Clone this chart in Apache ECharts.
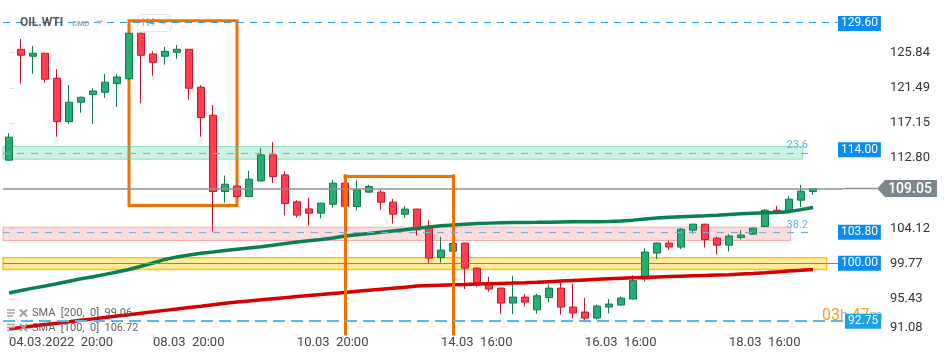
<!DOCTYPE html>
<html><head><meta charset="utf-8">
<script src="https://cdn.jsdelivr.net/npm/echarts@6/dist/echarts.min.js"></script>
<style>html,body{margin:0;padding:0;background:#fff}#c{width:950px;height:360px}</style>
</head><body><div id="c"></div>
<script>
// ---- DATA ----
// H4 candles: [open, close, low, high]
const candles = [
[112.56,115.40,112.50,115.89],[126.26,125.52,122.01,127.53],[125.40,125.77,123.25,126.67],[125.77,122.56,122.14,125.80],
[122.68,117.32,115.47,123.79],[117.32,119.72,117.04,121.85],[119.72,120.33,118.43,120.40],[120.66,121.11,117.04,121.45],
[120.95,122.19,120.28,123.21],[122.01,122.84,119.12,123.17],[122.63,128.24,122.50,128.30],[128.24,125.52,119.59,128.30],
[125.68,124.65,123.00,126.01],[125.40,126.01,124.36,126.54],[125.89,126.26,125.10,126.79],[126.26,121.45,120.00,126.30],
[121.57,117.82,115.47,121.85],[118.11,108.68,103.74,119.38],[108.68,109.59,107.32,110.66],[109.35,108.06,108.00,109.40],
[108.06,110.21,108.00,111.24],[110.00,113.21,109.88,114.04],[113.21,110.53,109.72,114.78],[110.74,107.20,105.72,111.20],
[107.41,105.77,105.47,107.62],[106.54,106.01,104.48,107.91],[106.01,107.25,105.37,107.30],[107.12,109.72,106.70,110.13],
[109.72,106.88,106.80,109.80],[106.83,108.89,106.33,110.13],[108.61,109.30,108.55,109.51],[108.61,107.37,106.42,108.89],
[107.37,105.89,104.73,107.78],[105.89,106.51,105.47,106.91],[106.51,103.95,103.25,106.55],[104.24,100.46,99.84,105.19],
[100.53,101.45,99.91,103.09],[101.32,102.26,101.20,102.30],[102.31,99.22,96.63,102.35],[99.22,97.16,96.88,99.25],
[97.28,96.63,96.30,98.15],[96.75,94.90,93.54,96.80],[94.90,95.64,93.54,98.28],[95.64,95.02,94.48,96.05],
[94.07,95.80,93.60,96.05],[95.59,96.75,94.98,97.16],[96.75,94.41,93.49,97.78],[94.41,93.67,93.00,97.28],
[93.79,93.05,92.63,95.55],[93.05,94.53,92.88,94.69],[94.41,94.78,93.62,95.40],[94.66,95.52,94.60,95.72],
[95.40,97.66,95.35,98.36],[97.87,101.20,97.57,101.69],[101.08,102.31,100.34,102.35],[102.31,101.82,101.48,102.63],
[101.82,104.03,101.57,104.16],[103.91,104.65,103.42,104.70],[104.65,102.75,101.77,104.70],[102.93,102.06,100.90,103.13],
[102.06,103.18,101.27,103.42],[103.00,103.30,102.75,103.91],[103.42,104.16,103.35,104.20],[104.36,106.38,104.30,106.51],
[106.38,106.13,105.96,106.91],[106.38,107.74,106.30,108.15],[107.62,108.73,106.75,109.51],[108.70,109.05,108.24,109.10]
];
const sma100 = [96.15,96.45,96.75,97.0,97.3,97.6,97.9,98.15,98.45,98.75,99.05,99.45,99.85,100.3,100.6,100.85,101.05,101.2,
101.4,101.55,101.7,101.85,102.05,102.25,102.45,102.6,102.75,102.95,103.2,103.35,103.5,103.65,103.8,103.95,104.15,104.3,
104.45,104.55,104.65,104.72,104.78,104.82,104.85,104.87,104.88,104.9,104.92,104.94,104.95,104.96,104.97,105.05,105.15,
105.3,105.42,105.5,105.57,105.63,105.68,105.75,105.85,105.93,106.0,106.05,106.1,106.2,106.45,106.72];
const sma200 = [91.7,91.88,92.06,92.24,92.42,92.6,92.78,92.95,93.12,93.3,93.47,93.65,93.82,94.0,94.17,94.35,94.52,94.7,
94.88,95.03,95.17,95.3,95.44,95.57,95.7,95.83,95.96,96.09,96.22,96.35,96.48,96.61,96.74,96.87,97.0,97.06,97.11,97.16,
97.2,97.25,97.29,97.33,97.37,97.42,97.48,97.55,97.62,97.69,97.76,97.83,97.9,97.97,98.02,98.07,98.12,98.17,98.22,98.27,
98.32,98.36,98.4,98.48,98.56,98.65,98.75,98.85,98.95,99.06];
const tickIdx = [0,12,24,36,48,60];
const tickLabels = ['04.03.2022  20:00','08.03  20:00','10.03  20:00','14.03  16:00','16.03  16:00','18.03  16:00'];
const yTicks = [91.08,95.43,99.77,104.12,112.80,117.15,121.49,125.84];
const lastPrice = 109.05;
// horizontal levels
const lvlTop = 129.60, lvlBottom = 92.72, lvl100 = 99.82;
const fib236 = 113.45, fib382 = 103.65;
const badgeValues = [129.45, 113.85, 103.65, 99.82, 92.65];
const badgeTexts = ['129.60','114.00','103.80','100.00','92.75'];
// zones [yLow, yHigh, xRight]
const zoneGreen = [112.68, 114.24, 66.14];
const zoneRed = [102.63, 104.28, 65.14];
const zoneYellow = [99.05, 100.49, 68.14];
// orange boxes [xLeft, yTop, xRight, yBottom]
const box1 = [10, 129.78, 19, 106.95];
const box2 = [28, 110.62, 37.05];
const fibEnd = 66.75;

// ---- CHART ----
const font = 'Roboto, "Noto Sans", sans-serif';
const X_MIN = -0.5, X_MAX = 69.5, Y_MIN = 91.08, Y_MAX = 132.35;
const chart = echarts.init(document.getElementById('c'));

function badge(v, text, color, dist) {
  return {yAxis: v, lineStyle: {color: 'rgba(0,0,0,0)', width: 0},
    label: {show: true, position: 'end', distance: dist, formatter: text, backgroundColor: color,
      color: '#fff', fontSize: 12, fontFamily: font, padding: [2,3,1,3], lineHeight: 12}};
}

const zoneItem = (z, fill, border, bw) => [
  {xAxis: -0.6, yAxis: z[1], itemStyle: {color: fill, borderColor: border, borderWidth: bw}},
  {xAxis: z[2], yAxis: z[0]}
];

function buildOption(extraGraphics) {
  return {
    animation: false,
    grid: {left: 3, top: 0, width: 840, height: 334},
    xAxis: {type: 'value', min: X_MIN, max: X_MAX, splitLine: {show: false}, axisLine: {show: false},
      axisTick: {show: true, customValues: tickIdx, length: 4, lineStyle: {color: '#d6d6d6'}},
      axisLabel: {customValues: tickIdx, formatter: v => { const k = tickIdx.indexOf(Math.round(v)); return k >= 0 ? tickLabels[k] : ''; },
        align: 'left', margin: 2, color: '#444', fontSize: 13, fontFamily: font}},
    yAxis: {type: 'value', position: 'right', offset: 39, min: Y_MIN, max: Y_MAX, splitLine: {show: false}, axisLine: {show: false},
      axisTick: {show: true, customValues: yTicks, length: 5, lineStyle: {color: '#e0e0e0'}},
      axisLabel: {customValues: yTicks, formatter: v => v.toFixed(2), margin: 8, color: '#333', fontSize: 13, fontFamily: font,
        verticalAlignMinLabel: 'bottom'}},
    series: [
      {type: 'line', name: 'under', data: [], z: 1, markLine: {silent: true, symbol: ['none','none'], animation: false,
        data: [
          {yAxis: lastPrice, lineStyle: {color: '#8a9396', width: 1.5, type: 'solid'}, label: {show: false}},
          {yAxis: lvl100, lineStyle: {color: '#2a9fe8', width: 1.2, type: 'solid'}, label: {show: false}}
        ]}},
      {type: 'candlestick', data: candles.map((c, i) => [i, c[0], c[1], c[2], c[3]]),
        dimensions: ['x','open','close','lowest','highest'], encode: {x: 'x', y: ['open','close','lowest','highest']},
        barWidth: 7, z: 2,
        itemStyle: {color: '#26ad73', color0: '#ff3f50', borderColor: '#127a4b', borderColor0: '#c21a30', borderWidth: 1}},
      {type: 'line', data: sma100.map((v, i) => [i, v]), symbol: 'none', z: 3, lineStyle: {color: '#08804f', width: 3.5}},
      {type: 'line', data: sma200.map((v, i) => [i, v]), symbol: 'none', z: 3, lineStyle: {color: '#d70000', width: 3.5}},
      {type: 'line', name: 'boxes', data: [], z: 4,
        markArea: {silent: true, label: {show: false},
          itemStyle: {color: 'rgba(0,0,0,0)', borderColor: '#f07000', borderWidth: 3},
          data: [[{xAxis: box1[0], yAxis: box1[1]}, {xAxis: box1[2], yAxis: box1[3]}]]},
        markLine: {silent: true, symbol: ['none','none'], label: {show: false},
          lineStyle: {color: '#f07000', width: 3, type: 'solid', cap: 'square'},
          data: [
            [{xAxis: box2[0], yAxis: box2[1]}, {xAxis: box2[0], yAxis: Y_MIN}],
            [{xAxis: box2[0], yAxis: box2[1]}, {xAxis: box2[2], yAxis: box2[1]}],
            [{xAxis: box2[2], yAxis: box2[1]}, {xAxis: box2[2], yAxis: Y_MIN}]
          ]}},
      {type: 'line', name: 'zones', data: [], z: 5,
        markArea: {silent: true, label: {show: false},
          data: [
            zoneItem(zoneGreen, 'rgba(80,210,160,0.28)', 'rgba(70,200,150,0.55)', 1),
            zoneItem(zoneRed, 'rgba(240,80,80,0.2)', 'rgba(240,110,110,0.5)', 1),
            zoneItem(zoneYellow, 'rgba(255,210,40,0.45)', '#f5c518', 1.5)
          ]}},
      {type: 'line', name: 'levels', data: [], z: 6,
        markLine: {silent: true, symbol: ['none','none'], animation: false,
          data: [
            {yAxis: lvlTop, lineStyle: {color: '#2a9fe8', width: 1.2, type: [7,6]}, label: {show: false}},
            {yAxis: lvlBottom, lineStyle: {color: '#56baf0', width: 2, type: [12,6]}, label: {show: false}},
            [{xAxis: X_MIN, yAxis: fib236, lineStyle: {color: '#6cb2e4', width: 1.2, type: [7,7]},
              label: {show: true, position: 'insideEndTop', formatter: '23.6', color: '#4cb8ff', fontSize: 11, fontFamily: font, distance: 2}},
             {xAxis: fibEnd, yAxis: fib236}],
            [{xAxis: X_MIN, yAxis: fib382, lineStyle: {color: '#6cb2e4', width: 1.2, type: [7,7]},
              label: {show: true, position: 'insideEndTop', formatter: '38.2', color: '#4cb8ff', fontSize: 11, fontFamily: font, distance: 2}},
             {xAxis: fibEnd, yAxis: fib382}],
            badge(badgeValues[0], badgeTexts[0], '#0b8cf0', -5),
            badge(badgeValues[1], badgeTexts[1], '#0b8cf0', -5),
            badge(badgeValues[2], badgeTexts[2], '#0b8cf0', -5),
            badge(badgeValues[3], badgeTexts[3], '#0b8cf0', -5),
            badge(badgeValues[4], badgeTexts[4], '#19a2e6', 2)
          ]}}
    ],
    graphic: {elements: [
      // header
      {type: 'text', z: 100, style: {text: 'OIL.WTI', x: 20, y: 23, verticalAlign: 'middle', fill: 'rgba(60,60,60,0.85)', fontSize: 12, fontWeight: 'bold', fontFamily: font}},
      {type: 'text', z: 100, style: {text: 'CMD', x: 72, y: 24, verticalAlign: 'middle', fill: '#9aa8b2', fontSize: 8, fontWeight: 'bold', fontFamily: font}},
      {type: 'polygon', z: 100, shape: {points: [[96,20.5],[103,20.5],[99.5,24.5]]}, style: {fill: '#b8b8b8'}},
      {type: 'rect', z: 1, shape: {x: 137.5, y: 14.5, width: 34, height: 17, r: 4}, style: {fill: 'rgba(255,255,255,0.9)', stroke: '#e4e4e4', lineWidth: 1}},
      {type: 'text', z: 1, style: {text: 'H4', x: 142, y: 23.5, verticalAlign: 'middle', fill: '#9a9a9a', fontSize: 10, fontFamily: font}},
      {type: 'polygon', z: 1, shape: {points: [[160,21],[167,21],[163.5,25]]}, style: {fill: '#c4c4c4'}},
      // legend rows
      ...[313, 327.5].flatMap(y => [
        {type: 'line', z: 100, shape: {x1: 7, y1: y - 3, x2: 15, y2: y - 3}, style: {stroke: '#a0a0a0', lineWidth: 1.5}},
        {type: 'line', z: 100, shape: {x1: 7, y1: y, x2: 15, y2: y}, style: {stroke: '#a0a0a0', lineWidth: 1.5}},
        {type: 'line', z: 100, shape: {x1: 7, y1: y + 3, x2: 13, y2: y + 3}, style: {stroke: '#a0a0a0', lineWidth: 1.5}},
        {type: 'line', z: 100, shape: {x1: 20, y1: y - 3.5, x2: 27, y2: y + 3.5}, style: {stroke: '#a0a0a0', lineWidth: 2}},
        {type: 'line', z: 100, shape: {x1: 27, y1: y - 3.5, x2: 20, y2: y + 3.5}, style: {stroke: '#a0a0a0', lineWidth: 2}}
      ]),
      {type: 'text', z: 100, style: {text: 'SMA  [200,  0]  99.06', x: 32, y: 313.5, verticalAlign: 'middle', fill: 'rgba(80,80,80,0.9)', fontSize: 11, fontFamily: font}},
      {type: 'text', z: 100, style: {text: 'SMA  [100,  0]  106.72', x: 32, y: 328, verticalAlign: 'middle', fill: 'rgba(80,80,80,0.9)', fontSize: 11, fontFamily: font}},
      // countdown
      {type: 'text', z: 1, style: {text: '{o|03}{g|h} {o|47}{g|m}', x: 822, y: 316, verticalAlign: 'middle',
        rich: {o: {fill: '#f5a020', fontSize: 16, fontFamily: font}, g: {fill: '#b4b4b4', fontSize: 15, fontFamily: font}}}},
      ...extraGraphics
    ]}
  };
}

chart.setOption(buildOption([]));
const py = chart.convertToPixel({yAxisIndex: 0}, lastPrice);
const gx = chart.convertToPixel({xAxisIndex: 0}, X_MAX);
const tag = [
  {type: 'line', z: 1, shape: {x1: gx, y1: py, x2: gx + 34, y2: py}, style: {stroke: '#8a9396', lineWidth: 1.5}},
  {type: 'polygon', z: 100, shape: {points: [[gx + 34, py], [gx + 42, py - 8.5], [gx + 94, py - 8.5], [gx + 94, py + 8.5], [gx + 42, py + 8.5]]}, style: {fill: '#7b878b'}},
  {type: 'text', z: 101, style: {text: lastPrice.toFixed(2), x: gx + 67, y: py + 0.5, align: 'center', verticalAlign: 'middle', fill: '#fff', fontSize: 14, fontWeight: 500, fontFamily: font}}
];
chart.setOption(buildOption(tag), true);
</script>
</body></html>
